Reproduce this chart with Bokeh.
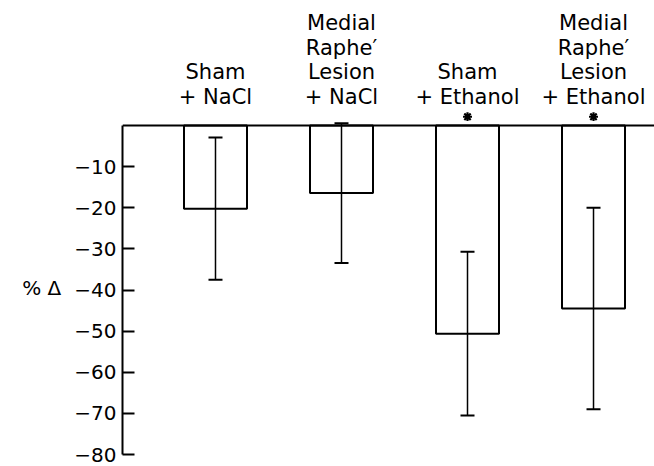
from bokeh.plotting import figure
from bokeh.layouts import column
from bokeh.models import ColumnDataSource, Range1d, FixedTicker, Whisker, TeeHead, Span
from bokeh.core.properties import value
from bokeh.embed import file_html
from bokeh.resources import INLINE

# ---- data ----
groups = ["Sham\n+ NaCl", "Medial\nRaphe\u2032\nLesion\n+ NaCl", "Sham\n+ Ethanol", "Medial\nRaphe\u2032\nLesion\n+ Ethanol"]
positions = [1, 2, 3, 4]
mean_change = [-20.2, -16.4, -50.6, -44.5]
error = [17.3, 17.0, 19.9, 24.5]
significant = [False, False, True, True]
y_ticks = [-10, -20, -30, -40, -50, -60, -70, -80]
y_tick_labels = ["\u221210", "\u221220", "\u221230", "\u221240", "\u221250", "\u221260", "\u221270", "\u221280"]
y_title = "% \u0394"

FONT = "DejaVu Sans"

src = ColumnDataSource(dict(
    x=positions,
    mean=mean_change,
    upper=[m + e for m, e in zip(mean_change, error)],
    lower=[m - e for m, e in zip(mean_change, error)],
    label=groups,
))

x_range = Range1d(0.262, 4.484)

# ---- header figure: group labels and significance stars ----
top = figure(width=654, height=121, output_backend="svg", toolbar_location=None,
             x_range=x_range, y_range=Range1d(1, 30.44),
             min_border_left=122, min_border_right=0, min_border_top=0, min_border_bottom=0)
top.outline_line_color = None
top.xgrid.visible = False
top.ygrid.visible = False
top.xaxis.visible = False
top.yaxis.visible = False
top.text(x="x", y=4.1, text="label", source=src, text_font=value(FONT), text_font_size="21px",
         text_align="center", text_baseline="bottom", text_color="black", text_line_height=1.02)
star_x = [x for x, s in zip(positions, significant) if s]
top.scatter(x=star_x, y=[2.15] * len(star_x), marker="asterisk", size=9, line_width=2.2, line_color="black")

# ---- main figure ----
p = figure(width=654, height=345, output_backend="svg", toolbar_location=None,
           x_range=x_range, y_range=Range1d(-80, 1),
           min_border_left=122, min_border_right=0, min_border_top=0, min_border_bottom=12)
p.outline_line_color = None
p.xgrid.visible = False
p.ygrid.visible = False
p.xaxis.visible = False

ax = p.yaxis[0]
ax.ticker = FixedTicker(ticks=y_ticks)
ax.major_label_overrides = {t: l for t, l in zip(y_ticks, y_tick_labels)}
ax.bounds = (-80, 0)
ax.major_tick_in = 12
ax.major_tick_out = 0
ax.minor_tick_in = 0
ax.minor_tick_out = 0
ax.axis_line_width = 2
ax.major_tick_line_width = 2
ax.axis_line_color = "black"
ax.major_tick_line_color = "black"
ax.major_label_text_font = FONT
ax.major_label_text_font_size = "20px"
ax.major_label_text_color = "black"
ax.major_label_standoff = 6
ax.axis_label = y_title
ax.axis_label_orientation = "horizontal"
ax.axis_label_text_font = FONT
ax.axis_label_text_font_size = "20px"
ax.axis_label_text_font_style = "normal"
ax.axis_label_text_color = "black"
ax.axis_label_standoff = 10

# zero line
p.add_layout(Span(location=0, dimension="width", line_color="black", line_width=2))

# bars (open)
p.vbar(x="x", top=0, bottom="mean", width=0.5, source=src,
       fill_color=None, line_color="black", line_width=2)

# error bars
p.add_layout(Whisker(base="x", upper="upper", lower="lower", source=src, dimension="height",
                     line_color="black", line_width=1.5,
                     upper_head=TeeHead(size=14, line_width=2, line_color="black"),
                     lower_head=TeeHead(size=14, line_width=2, line_color="black")))

layout = column(top, p, spacing=0)
open("out.html", "w").write(file_html(layout, INLINE))
